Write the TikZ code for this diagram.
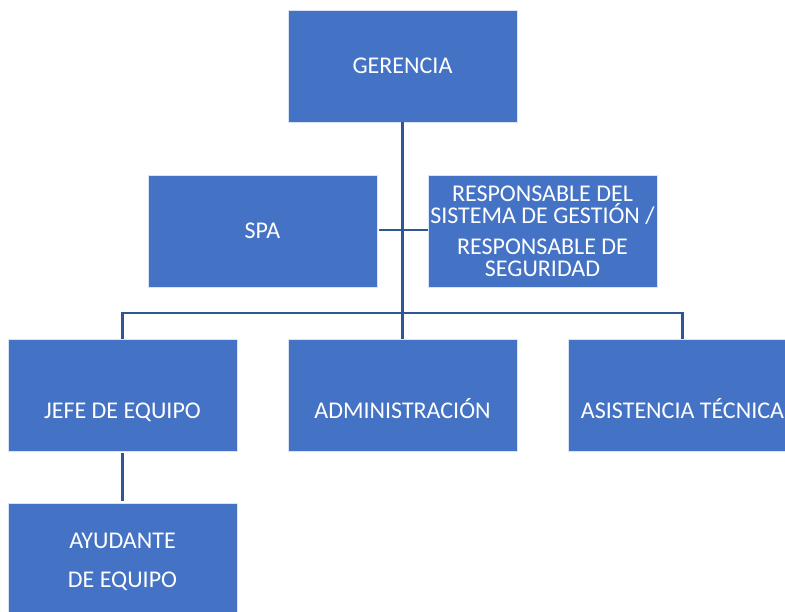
\documentclass[tikz,border=0pt]{standalone}
\usepackage{fontspec}
\setmainfont{Carlito}
\definecolor{boxblue}{HTML}{4472C4}
\definecolor{lineblue}{HTML}{2F5597}
\begin{document}
\begin{tikzpicture}[x=1pt,y=-1pt,
  orgbox/.style={fill=boxblue,draw=white!80!boxblue,line width=0.6pt,minimum width=229pt,minimum height=112pt,inner sep=0pt,text=white,align=center,font=\fontsize{24}{22}\selectfont},
  lbl/.style={inner sep=0pt,text=white,align=center,font=\fontsize{24}{22}\selectfont},
  rowlbl/.style={lbl,text height=16pt,text depth=6pt},
  link/.style={draw=lineblue,line width=2.6pt}]
\useasboundingbox (0,0) rectangle (785,612);
\begin{scope}
\clip (0,0) rectangle (785,612);
\node[orgbox] (ger) at (402.5,66) {GERENCIA};
\node[orgbox] (spa) at (262.5,231) {SPA};
\node[orgbox] (resp) at (542.5,231) {RESPONSABLE DEL\\SISTEMA DE GESTIÓN /\\[9pt]RESPONSABLE DE\\SEGURIDAD};
\node[orgbox] (jefe) at (122.5,395) {};
\node[orgbox] (admin) at (402.5,395) {};
\node[orgbox] (asis) at (682.5,395) {};
\node[orgbox] (ayu) at (122.5,559) {};
\node[rowlbl] (jefet) at ([yshift=-19pt]jefe.center) {JEFE DE EQUIPO};
\node[rowlbl] (admint) at ([yshift=-19pt]admin.center) {ADMINISTRACIÓN};
\node[rowlbl] (asist) at ([yshift=-19pt]asis.center) {ASISTENCIA TÉCNICA};
\node[lbl,font=\fontsize{24}{38.5}\selectfont] (ayut) at ([yshift=-3pt]ayu.center) {AYUDANTE\\DE EQUIPO};
\coordinate (bus) at (402.5,313);
\coordinate (bl) at (122.5,313);
\coordinate (br) at (682.5,313);
\coordinate (spaend) at (379,230);
\draw[link] (ger.south) -- (bus);
\draw[link] (spaend) -- (resp.west |- spaend);
\draw[link] (jefe.north) -- (bl) -- (br) -- (asis.north);
\draw[link] (bus) -- (admin.north);
\draw[link] ([yshift=-2pt]jefe.south) -- ([yshift=2pt]ayu.north);
\end{scope}
\end{tikzpicture}
\end{document}
